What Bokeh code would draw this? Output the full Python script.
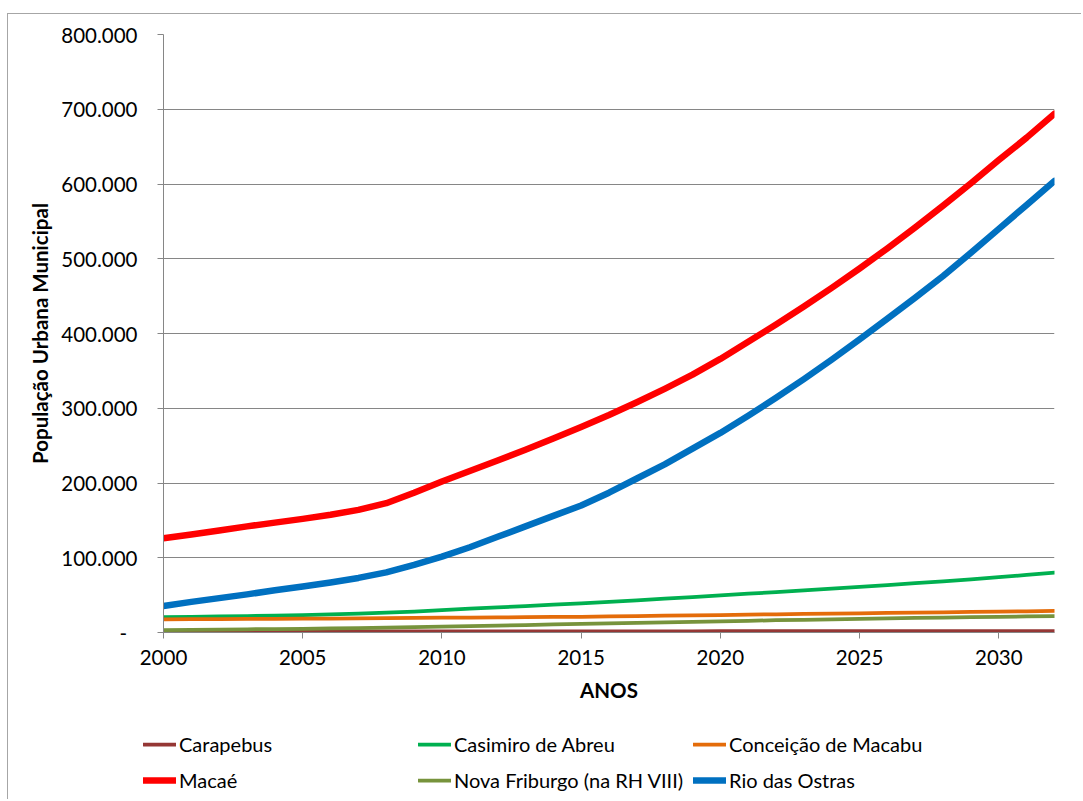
from bokeh.plotting import figure
from bokeh.models import Legend, LegendItem, FixedTicker, Range1d
from bokeh.embed import file_html
from bokeh.resources import INLINE

# Projected urban population per municipality, 2000-2032
years = list(range(2000, 2033))

carapebus = [1200, 1200, 1250, 1250, 1300, 1300, 1350, 1350, 1400, 1400, 1450,
             1450, 1500, 1500, 1550, 1550, 1600, 1600, 1650, 1650, 1700, 1700,
             1750, 1750, 1800, 1800, 1850, 1850, 1900, 1900, 1950, 1950, 2000]

casimiro_de_abreu = [20500, 21000, 21500, 22000, 22700, 23400, 24200, 25200, 26500,
                     28000, 30000, 31800, 33600, 35400, 37200, 39000, 41000, 43100,
                     45200, 47400, 49700, 51900, 54100, 56400, 58700, 61000, 63500,
                     66000, 68500, 71200, 74000, 77000, 80000]

conceicao_de_macabu = [17600, 17800, 18000, 18100, 18300, 18500, 18700, 19000, 19200,
                       19500, 19800, 20000, 20300, 20500, 20800, 21000, 21500, 22000,
                       22500, 22900, 23400, 23900, 24300, 24800, 25200, 25700, 26100,
                       26600, 27000, 27500, 27900, 28400, 28800]

macae = [126000, 131000, 136500, 142000, 147000, 152000, 157500, 164000, 173000,
         187000, 202000, 216000, 230000, 244500, 259500, 275000, 291000, 308000,
         326000, 345000, 366000, 389000, 412000, 436000, 461000, 487000, 514000,
         542000, 571000, 601000, 632000, 662000, 694000]

nova_friburgo = [3300, 3600, 3900, 4300, 4600, 5000, 5500, 6000, 6500, 7100, 7800,
                 8500, 9300, 10000, 10800, 11500, 12200, 12900, 13600, 14300, 15000,
                 15700, 16400, 17000, 17700, 18300, 18900, 19500, 20000, 20500, 21000,
                 21500, 22000]

rio_das_ostras = [35500, 41000, 46000, 51000, 56500, 61500, 67000, 73000, 80500,
                  90500, 101500, 114000, 128000, 142000, 156000, 170000, 187000,
                  206000, 225000, 246000, 267000, 290000, 314000, 339000, 365000,
                  392000, 420000, 448000, 477000, 508000, 540000, 572000, 604000]

series_names = ["Carapebus", "Casimiro de Abreu", "Conceição de Macabu",
                "Macaé", "Nova Friburgo (na RH VIII)", "Rio das Ostras"]
series_values = [carapebus, casimiro_de_abreu, conceicao_de_macabu,
                 macae, nova_friburgo, rio_das_ostras]
series_colors = ["#953735", "#00B050", "#E46C0A", "#FF0000", "#77933C", "#0070C0"]
series_widths = [3.75, 3.75, 3.75, 6.5, 3.75, 6.5]

y_ticks = [0, 100000, 200000, 300000, 400000, 500000, 600000, 700000, 800000]
y_tick_labels = ["-\u00a0\u00a0", "100.000", "200.000", "300.000", "400.000",
                 "500.000", "600.000", "700.000", "800.000"]
x_ticks = [2000, 2005, 2010, 2015, 2020, 2025, 2030]

FONT = "Lato"
GREY = "#868686"
FRAME = "1px solid #a6a6a6"
W = 1074

# --- main chart -----------------------------------------------------------
p = figure(width=W, height=701, output_backend="svg", toolbar_location=None,
           x_range=Range1d(2000, 2032), y_range=Range1d(0, 800000),
           min_border_left=155, min_border_right=28, min_border_top=20,
           min_border_bottom=83, margin=(13, 0, 0, 7),
           styles={"border-top": FRAME, "border-left": FRAME})

p.outline_line_color = None
p.background_fill_color = "white"
p.border_fill_color = "white"
p.xgrid.visible = False
p.ygrid.grid_line_color = GREY
p.ygrid.grid_line_width = 1

for ax in (p.xaxis[0], p.yaxis[0]):
    ax.axis_line_color = GREY
    ax.major_tick_line_color = GREY
    ax.major_tick_in = 0
    ax.major_tick_out = 6
    ax.minor_tick_line_color = None
    ax.major_label_text_font = FONT
    ax.major_label_text_font_size = "20.5px"
    ax.major_label_text_color = "black"
    ax.axis_label_text_font = FONT
    ax.axis_label_text_font_style = "bold"
    ax.axis_label_text_font_size = "20.5px"
    ax.axis_label_text_color = "black"

p.xaxis.ticker = FixedTicker(ticks=x_ticks)
p.xaxis.major_label_standoff = 11
p.xaxis.axis_label = "ANOS"
p.xaxis.axis_label_standoff = 10

p.yaxis.ticker = FixedTicker(ticks=y_ticks)
p.yaxis.major_label_overrides = {t: lab for t, lab in zip(y_ticks, y_tick_labels)}
p.yaxis.major_label_standoff = 20
p.yaxis.axis_label = "População Urbana Municipal"
p.yaxis.axis_label_standoff = 6

for vals, col, w in zip(series_values, series_colors, series_widths):
    p.line(years, vals, line_color=col, line_width=w, line_cap="round",
           line_join="round")

# --- legend strip underneath ----------------------------------------------
lg = figure(width=W, height=85, output_backend="svg", toolbar_location=None,
            x_range=Range1d(0, 1), y_range=Range1d(0, 1),
            x_axis_type=None, y_axis_type=None,
            min_border_left=0, min_border_right=0, min_border_top=0,
            min_border_bottom=0, margin=(0, 0, 0, 7),
            styles={"border-left": FRAME})
lg.outline_line_color = None
lg.grid.visible = False
lg.background_fill_color = "white"
lg.border_fill_color = "white"

# the series lie outside this strip's ranges; they only feed the legend swatches
items = []
for name, vals, col, w in zip(series_names, series_values, series_colors, series_widths):
    r = lg.line(years, vals, line_color=col, line_width=w, line_cap="round")
    items.append(LegendItem(label=name, renderers=[r]))

legend = Legend(items=items, location=(135, 1), orientation="horizontal", ncols=3,
                glyph_width=33, glyph_height=36, label_height=36, label_width=239,
                label_standoff=3, spacing=0, padding=0, margin=0,
                label_text_font=FONT, label_text_font_size="20px",
                label_text_color="black", border_line_color=None,
                background_fill_alpha=0)
lg.add_layout(legend)

open("out.html", "w").write(file_html([p, lg], INLINE))
